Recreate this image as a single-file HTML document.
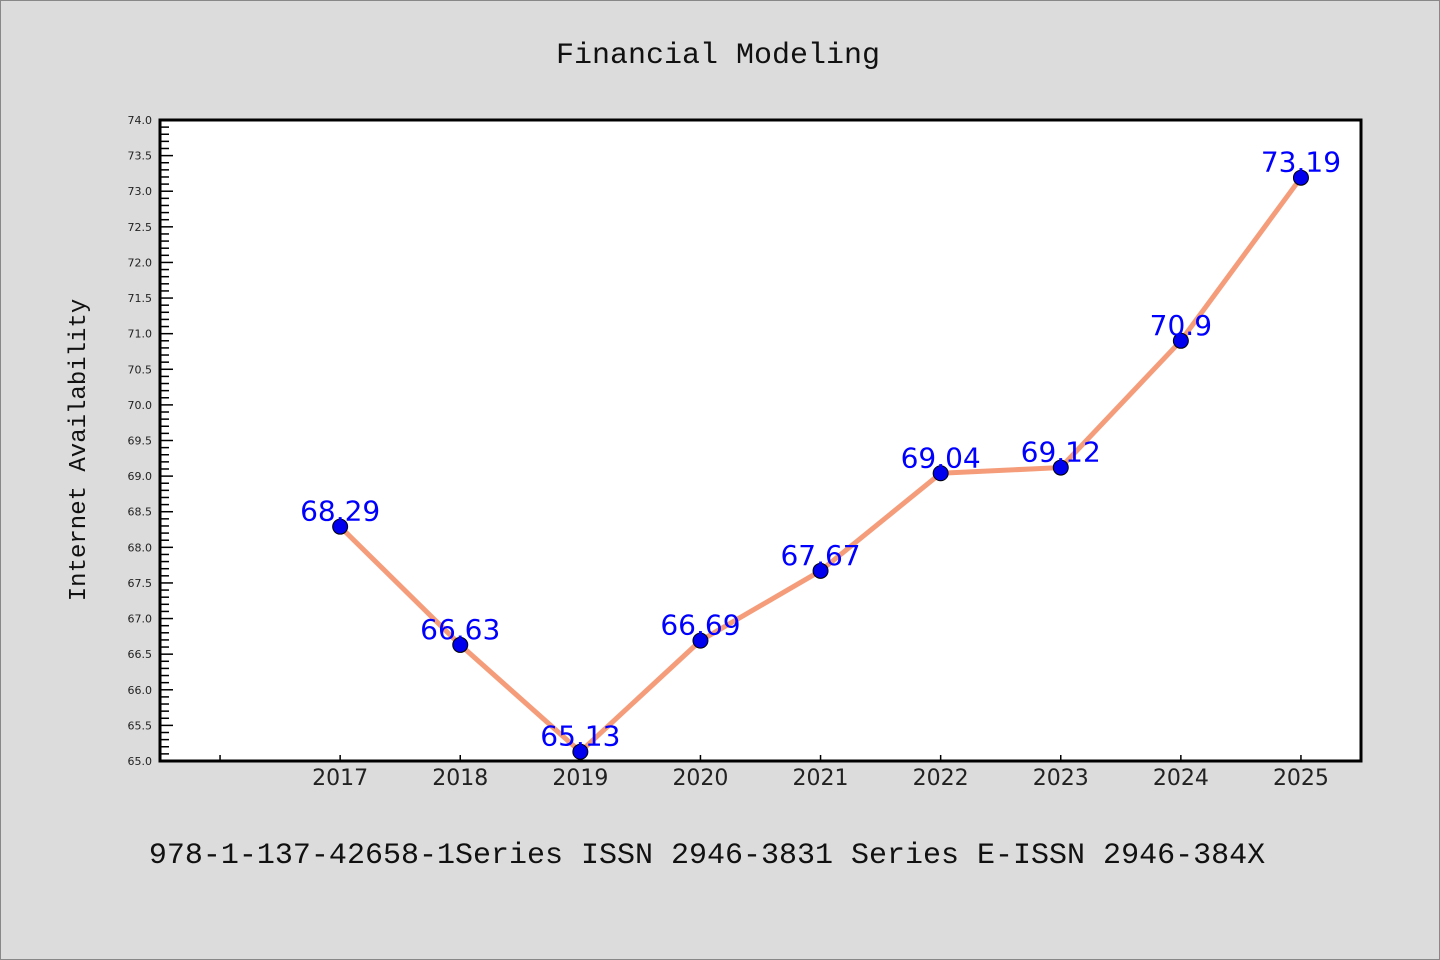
<!DOCTYPE html>
<html><head><meta charset="utf-8"><style>
body{margin:0;background:#dcdcdc;}
svg{display:block;}
</style></head><body>
<svg id="chart" width="1440" height="960" xmlns="http://www.w3.org/2000/svg">
<rect x="0.5" y="0.5" width="1439" height="959" fill="#dcdcdc" stroke="#888"/>
<text x="718" y="63" text-anchor="middle" font-family="Liberation Mono, monospace" font-size="30" fill="#111">Financial Modeling</text>
<rect x="160" y="120" width="1201" height="641" fill="#fff"/>
<g id="yticks"></g>
<g id="xticks"></g>
<g id="series"></g>
<rect x="160" y="120" width="1201" height="641" fill="none" stroke="#000" stroke-width="3"/>
<text transform="translate(85,450) rotate(-90)" text-anchor="middle" font-family="Liberation Mono, monospace" font-size="24" fill="#111">Internet Availability</text>
<text x="707" y="863" text-anchor="middle" font-family="Liberation Mono, monospace" font-size="30" fill="#111">978-1-137-42658-1Series ISSN 2946-3831 Series E-ISSN 2946-384X</text>
</svg>
<script>
const years=[2017,2018,2019,2020,2021,2022,2023,2024,2025];
const values=[68.29,66.63,65.13,66.69,67.67,69.04,69.12,70.9,73.19];
const valueLabels=["68.29","66.63","65.13","66.69","67.67","69.04","69.12","70.9","73.19"];
const yTickLabels=["65.0","65.5","66.0","66.5","67.0","67.5","68.0","68.5","69.0","69.5","70.0","70.5","71.0","71.5","72.0","72.5","73.0","73.5","74.0"];
const xTickYears=[2016,2017,2018,2019,2020,2021,2022,2023,2024,2025];
const NS="http://www.w3.org/2000/svg";
const X0=160,X1=1361,Y0=761,Y1=120,XMIN=2015.5,XMAX=2025.5,YMIN=65,YMAX=74;
const xs=v=>X0+(v-XMIN)/(XMAX-XMIN)*(X1-X0);
const ys=v=>Y0-(v-YMIN)/(YMAX-YMIN)*(Y0-Y1);
function mk(t,a,p){const e=document.createElementNS(NS,t);for(const k in a)e.setAttribute(k,a[k]);p.appendChild(e);return e;}
const yg=document.getElementById('yticks');
for(let i=0;i<=90;i++){const v=YMIN+i*0.1;const y=ys(v);const major=i%5===0;
 const l=mk('line',{x1:X0,x2:X0+(major?13:9),y1:y,y2:y,stroke:'#000','stroke-width':1.5},yg);
 
 }
yTickLabels.forEach(s=>{const t=mk('text',{x:152,y:ys(parseFloat(s))+4,'text-anchor':'end','font-family':'DejaVu Sans, sans-serif','font-size':11,fill:'#222'},yg);t.textContent=s;
 
 });
const xg=document.getElementById('xticks');
xTickYears.forEach(yr=>{const x=xs(yr);
 const l=mk('line',{x1:x,x2:x,y1:Y0,y2:Y0-6,stroke:'#000','stroke-width':1.5},xg);
 
 
 if(years.includes(yr)){const t=mk('text',{x:x,y:785,'text-anchor':'middle','font-family':'DejaVu Sans, sans-serif','font-size':22,fill:'#222'},xg);t.textContent=yr;
 
 }});
const sg=document.getElementById('series');
const pts=years.map((y,i)=>xs(y)+','+ys(values[i])).join(' ');
const pl=mk('polyline',{points:pts,fill:'none',stroke:'#f59d7a','stroke-width':5,'stroke-linejoin':'round'},sg);


years.forEach((y,i)=>{const cx=xs(y),cy=ys(values[i]);
 const c=mk('circle',{cx:cx,cy:cy,r:7.5,fill:'#0000ee',stroke:'#000','stroke-width':1},sg);
 
 
 const t=mk('text',{x:cx,y:cy-6,'text-anchor':'middle','font-family':'DejaVu Sans, sans-serif','font-size':28,fill:'#0000ff'},sg);t.textContent=valueLabels[i];
 
 });
</script>
</body></html>
